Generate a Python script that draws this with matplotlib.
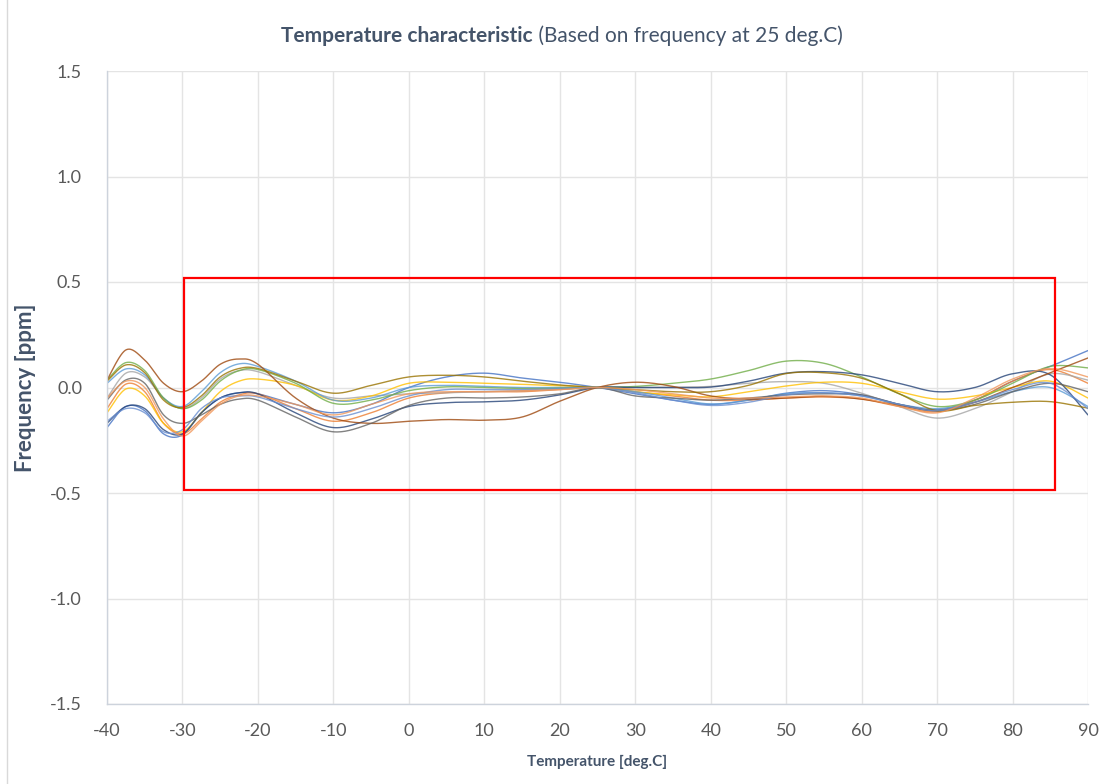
import numpy as np
import matplotlib
matplotlib.use("Agg")
import matplotlib.pyplot as plt
from matplotlib.patches import Rectangle
from matplotlib.lines import Line2D

plt.rcParams['font.family'] = ['Lato', 'DejaVu Sans']
plt.rcParams['axes.unicode_minus'] = False

temps = [-40, -37.5, -35, -32.5, -30, -27.5, -25, -22.5, -20, -15, -10, -5, 0, 5, 10,
         15, 20, 25, 30, 35, 40, 45, 50, 55, 60, 65, 70, 75, 80, 85, 90]

brown = [0.035, 0.178, 0.13, 0.02, -0.02, 0.03, 0.11, 0.135, 0.11, -0.05, -0.145, -0.17, -0.16, -0.152, -0.155,
         -0.14, -0.065, 0.0, 0.025, 0.005, -0.04, -0.055, -0.05, -0.042, -0.055, -0.085, -0.11, -0.07, 0.0, 0.07, 0.14]
green = [0.035, 0.118, 0.08, -0.05, -0.1, -0.06, 0.03, 0.08, 0.085, 0.02, -0.075, -0.06, -0.015, 0.003, 0.0,
         -0.005, -0.003, 0.0, 0.005, 0.02, 0.04, 0.08, 0.125, 0.115, 0.05, -0.03, -0.09, -0.06, 0.02, 0.1, 0.093]
olive = [0.03, 0.107, 0.07, -0.06, -0.095, -0.04, 0.05, 0.09, 0.09, 0.03, -0.027, 0.01, 0.05, 0.058, 0.05,
         0.03, 0.012, 0.0, -0.01, -0.02, -0.02, 0.01, 0.066, 0.07, 0.044, -0.03, -0.11, -0.085, -0.07, -0.067, -0.098]
lightblue = [0.02, 0.088, 0.06, -0.05, -0.09, -0.02, 0.07, 0.112, 0.1, 0.03, -0.06, -0.05, 0.0, 0.01, 0.005,
             0.0, 0.0, 0.0, -0.02, -0.05, -0.078, -0.06, -0.03, -0.025, -0.04, -0.08, -0.1, -0.07, -0.02, 0.0, -0.09]
gray = [-0.05, 0.068, 0.05, -0.05, -0.1, -0.05, 0.04, 0.08, 0.075, 0.01, -0.05, -0.04, -0.03, -0.025, -0.02,
        -0.015, -0.008, 0.0, 0.0, 0.002, 0.005, 0.02, 0.028, 0.02, -0.027, -0.09, -0.145, -0.1, -0.02, 0.065, 0.035]
darkgray = [-0.06, 0.036, 0.02, -0.13, -0.17, -0.13, -0.08, -0.055, -0.06, -0.14, -0.21, -0.17, -0.085, -0.05, -0.05,
            -0.045, -0.03, 0.0, -0.04, -0.05, -0.06, -0.05, -0.035, -0.03, -0.035, -0.08, -0.11, -0.08, -0.02, 0.02, -0.02]
orange = [-0.1, 0.016, -0.02, -0.17, -0.22, -0.15, -0.07, -0.035, -0.03, -0.1, -0.16, -0.12, -0.05, -0.025, -0.02,
          -0.02, -0.01, 0.0, -0.02, -0.04, -0.06, -0.06, -0.05, -0.045, -0.055, -0.09, -0.115, -0.06, 0.03, 0.085, 0.02]
gold = [-0.12, -0.007, -0.04, -0.17, -0.21, -0.12, -0.02, 0.03, 0.04, 0.01, -0.06, -0.04, 0.02, 0.025, 0.02,
        0.015, 0.008, 0.0, -0.02, -0.035, -0.044, -0.02, 0.007, 0.025, 0.02, -0.02, -0.055, -0.04, 0.0, 0.03, -0.05]
blue = [-0.19, -0.09, -0.11, -0.22, -0.225, -0.12, -0.05, -0.025, -0.03, -0.08, -0.12, -0.08, 0.0, 0.05, 0.068,
        0.045, 0.025, 0.0, -0.03, -0.06, -0.08, -0.06, -0.027, -0.015, -0.035, -0.08, -0.105, -0.06, 0.03, 0.1, 0.175]
darkblue = [-0.17, -0.09, -0.1, -0.2, -0.22, -0.12, -0.05, -0.025, -0.03, -0.12, -0.19, -0.15, -0.09, -0.072, -0.068,
            -0.06, -0.035, 0.0, 0.0, 0.0, 0.002, 0.03, 0.068, 0.075, 0.06, 0.02, -0.02, 0.0, 0.065, 0.06, -0.13]
blue2 = [-0.16, -0.1, -0.12, -0.21, -0.2, -0.1, -0.05, -0.04, -0.045, -0.1, -0.14, -0.1, -0.04, -0.01, -0.01,
         -0.01, -0.005, 0.0, -0.025, -0.06, -0.085, -0.07, -0.035, -0.025, -0.04, -0.08, -0.11, -0.07, -0.01, 0.02, -0.1]
peach = [-0.05, 0.03, 0.0, -0.15, -0.23, -0.16, -0.08, -0.04, -0.04, -0.08, -0.13, -0.08, -0.03, -0.02, -0.02,
         -0.015, -0.01, 0.0, -0.01, -0.03, -0.05, -0.05, -0.045, -0.04, -0.05, -0.09, -0.12, -0.05, 0.04, 0.09, 0.05]

series = [blue, orange, gray, gold, lightblue, green, darkblue, brown, darkgray, olive, blue2, peach]
colors = ['#4472C4', '#ED7D31', '#A5A5A5', '#FFC000', '#5B9BD5', '#70AD47',
          '#264478', '#9E480E', '#636363', '#997300', '#698ED0', '#F1975A']

x_ticks = [-40, -30, -20, -10, 0, 10, 20, 30, 40, 50, 60, 70, 80, 90]
y_ticks = [-1.5, -1.0, -0.5, 0.0, 0.5, 1.0, 1.5]
box_x = [-29.8, 85.6]
box_y = [-0.485, 0.52]


def smooth(xs, ys, n=30):
    P = np.column_stack([xs, ys]).astype(float)
    P = np.vstack([P[0], P, P[-1]])
    out = []
    for i in range(1, len(P) - 2):
        p0, p1, p2, p3 = P[i - 1], P[i], P[i + 1], P[i + 2]
        c1 = p1 + (p2 - p0) / 6.0
        c2 = p2 - (p3 - p1) / 6.0
        t = np.linspace(0, 1, n)[:, None]
        seg = ((1 - t) ** 3) * p1 + 3 * ((1 - t) ** 2) * t * c1 + 3 * (1 - t) * t ** 2 * c2 + t ** 3 * p2
        out.append(seg if i == 1 else seg[1:])
    out = np.vstack(out)
    return out[:, 0], out[:, 1]


fig = plt.figure(figsize=(11.07, 7.84), dpi=100)
ax = fig.add_axes([107 / 1107, 80 / 784, (1088 - 107) / 1107, (704 - 71) / 784])

text_col = '#44546A'
grid_col = '#E4E4E4'

for ys, c in zip(series, colors):
    sx, sy = smooth(temps, ys)
    ax.plot(sx, sy, color=c, lw=1.0, alpha=0.8, solid_capstyle='round')

ax.add_patch(Rectangle((box_x[0], box_y[0]), box_x[1] - box_x[0], box_y[1] - box_y[0],
                       fill=False, edgecolor='#FF0000', lw=1.6, zorder=5))

ax.set_xlim(-40, 90)
ax.set_ylim(-1.5, 1.5)
ax.set_xticks(x_ticks)
ax.set_yticks(y_ticks)
ax.set_xticklabels([str(v) for v in x_ticks])
ax.set_yticklabels([f'{v:.1f}' for v in y_ticks])
ax.tick_params(axis='both', length=0, labelsize=13, labelcolor='#595959')
ax.tick_params(axis='y', pad=18)
ax.tick_params(axis='x', pad=14)
ax.grid(True, color=grid_col, lw=1.0)
ax.set_axisbelow(True)
for s in ['top', 'right']:
    ax.spines[s].set_visible(False)
for s in ['left', 'bottom']:
    ax.spines[s].set_color('#CDD3DC')
    ax.spines[s].set_linewidth(1.0)

ax.set_xlabel('Temperature [deg.C]', fontsize=11, fontweight='bold', color=text_col, labelpad=11)
ax.set_ylabel('Frequency [ppm]', fontsize=16, fontweight='bold', color=text_col, labelpad=10)

fig.text(533 / 1107, 1 - 36 / 784, 'Temperature characteristic', fontsize=15.0, fontweight='bold',
         color=text_col, ha='right', va='center')
fig.text(533 / 1107, 1 - 36 / 784, ' (Based on frequency at 25 deg.C)', fontsize=15.0,
         color=text_col, ha='left', va='center')

fig.add_artist(Line2D([7 / 1107, 7 / 1107], [0, 1], color='#D9D9D9', lw=1.0))

fig.savefig('out.png', dpi=100)
